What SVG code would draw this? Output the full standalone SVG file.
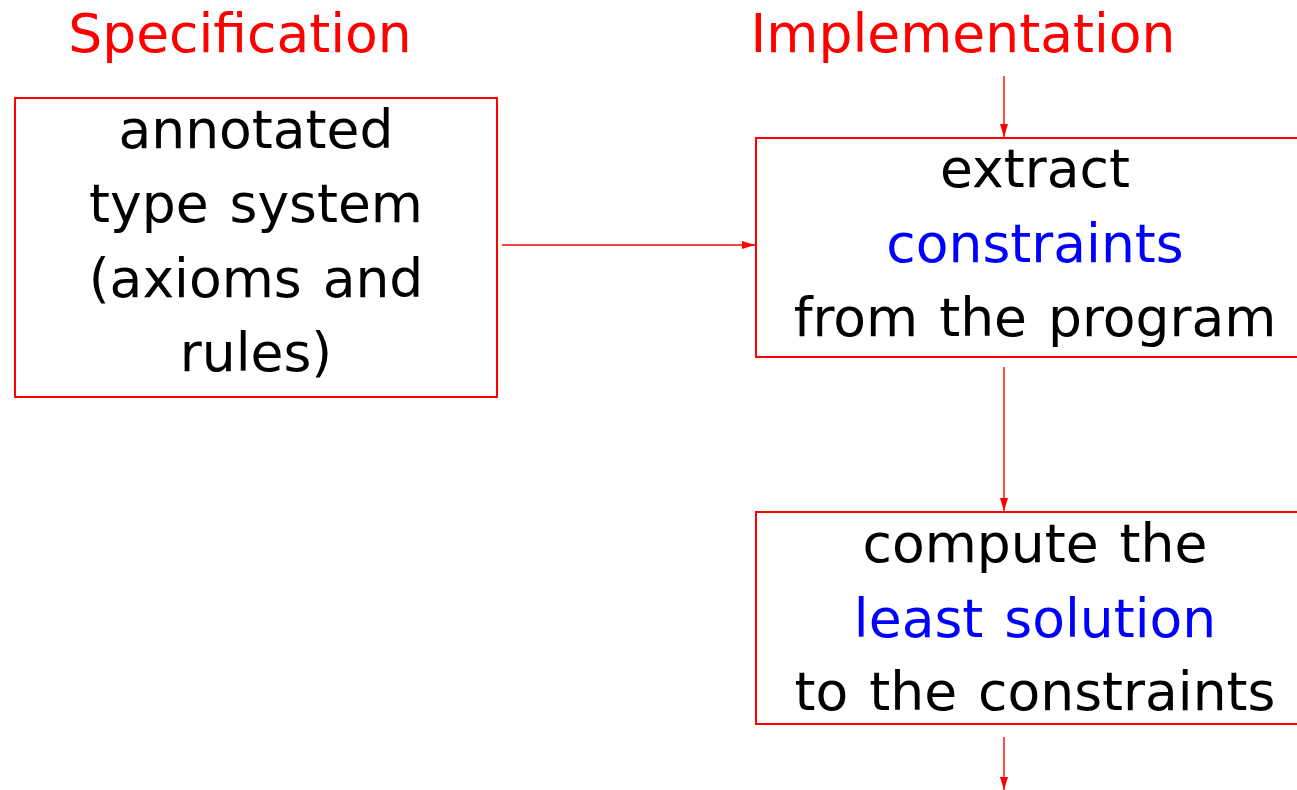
<svg xmlns="http://www.w3.org/2000/svg" width="1297" height="790" viewBox="0 0 1297 790">
  <style>
    text { font-family: "DejaVu Sans", "Liberation Sans", sans-serif; font-size: 53.5px; word-spacing: 4px; text-anchor: middle; fill: #000; }
    .title { fill: #ff0000; }
    .hl { fill: #0000ff; }
    .box { fill: none; stroke: #ff0000; stroke-width: 2; }
    .conn { stroke: #ff0000; stroke-width: 1.4; fill: none; marker-end: url(#head); }
  </style>
  <defs>
    <marker id="head" viewBox="0 0 13 8" refX="13" refY="4" markerWidth="13" markerHeight="8" markerUnits="userSpaceOnUse" orient="auto">
      <path d="M0,0 L13,4 L0,8 Z" fill="#ff0000"/>
    </marker>
  </defs>

  <g id="title-spec"><text class="title" x="240" y="52">Specification</text></g>
  <g id="title-impl"><text class="title" x="963" y="52">Implementation</text></g>

  <g id="type-system">
    <rect class="box" x="15" y="98" width="482" height="299"/>
    <text x="256" y="148">annotated</text>
    <text x="256" y="222">type system</text>
    <text x="256" y="297">(axioms and</text>
    <text x="256" y="371">rules)</text>
  </g>

  <g id="extract">
    <rect class="box" x="756" y="138" width="560" height="219"/>
    <text x="1035" y="187">extract</text>
    <text class="hl" x="1035" y="262">constraints</text>
    <text x="1035" y="336">from the program</text>
  </g>

  <g id="solve">
    <rect class="box" x="756" y="512" width="560" height="212"/>
    <text x="1035" y="562">compute the</text>
    <text class="hl" x="1035" y="637">least solution</text>
    <text x="1035" y="710">to the constraints</text>
  </g>

  <g id="connectors">
    <line class="conn" x1="1004" y1="76" x2="1004" y2="137"/>
    <line class="conn" x1="502" y1="245" x2="755" y2="245"/>
    <line class="conn" x1="1004" y1="367" x2="1004" y2="511"/>
    <line class="conn" x1="1004" y1="737" x2="1004" y2="790"/>
  </g>
</svg>
